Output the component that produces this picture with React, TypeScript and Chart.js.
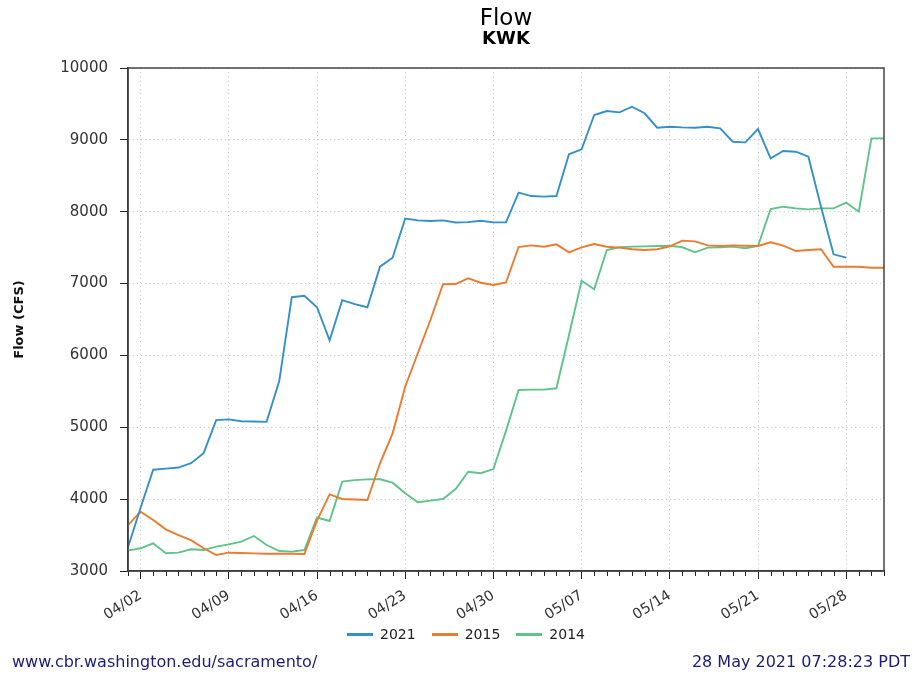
import React, { useEffect, useRef } from 'react';
import { Chart, registerables } from 'chart.js';

Chart.register(...registerables);

const seriesNames = ['2021', '2015', '2014'];
const seriesColors = ['#3490c9', '#ec7a2f', '#5dc48a'];

// daily flow (CFS), day 0 = 04/01
const flow2021 = [
  3330, 3880, 4410, 4425, 4440, 4500, 4640, 5100, 5110, 5085,
  5080, 5075, 5640, 6810, 6830, 6670, 6210, 6770, 6715, 6670,
  7235, 7360, 7905, 7880, 7870, 7880, 7850, 7855, 7875, 7852,
  7852, 8265, 8218, 8210, 8218, 8799, 8868, 9346, 9401, 9383,
  9461, 9370, 9169, 9183, 9174, 9169, 9183, 9160, 8974, 8965,
  9151, 8743, 8845, 8835, 8766, 8070, 7407, 7360,
];
const flow2015 = [
  3640, 3825, 3710, 3580, 3500, 3430, 3316, 3223, 3255, 3250,
  3245, 3240, 3240, 3240, 3237, 3700, 4067, 4002, 3995, 3988,
  4499, 4916, 5565, 6030, 6493, 6990, 6994, 7073, 7012, 6980,
  7015, 7509, 7532, 7513, 7546, 7435, 7505, 7551, 7513, 7500,
  7477, 7467, 7477, 7518, 7597, 7588, 7532, 7523, 7532, 7527,
  7523, 7574, 7527, 7453, 7467, 7477, 7235, 7235, 7235, 7221,
  7221,
];
const flow2014 = [
  3283, 3316, 3385, 3246, 3255, 3302, 3292, 3339, 3371, 3408,
  3487, 3362, 3278, 3269, 3292, 3745, 3696, 4243, 4265, 4275,
  4276, 4229, 4081, 3956, 3979, 4002, 4141, 4382, 4360, 4419,
  4950, 5519, 5524, 5524, 5543, 6284, 7040, 6920, 7467, 7505,
  7514, 7518, 7523, 7527, 7505, 7435, 7500, 7504, 7514, 7491,
  7523, 8038, 8070, 8047, 8033, 8047, 8047, 8126, 8000, 9021,
  9021,
];
const seriesValues = [flow2021, flow2015, flow2014];

const dayCount = 61; // 04/01 .. 05/31
const tickDays = [1, 8, 15, 22, 29, 36, 43, 50, 57];
const tickLabels = ['04/02', '04/09', '04/16', '04/23', '04/30', '05/07', '05/14', '05/21', '05/28'];
const yMin = 3000;
const yMax = 10000;
const yStep = 1000;

const titleText = 'Flow';
const subtitleText = 'KWK';
const yAxisTitle = 'Flow (CFS)';
const footerLeft = 'www.cbr.washington.edu/sacramento/';
const footerRight = '28 May 2021 07:28:23 PDT';

const FONT = '"DejaVu Sans", sans-serif';

const frameAndMinorTicks = {
  id: 'frameAndMinorTicks',
  afterDraw(chart: any) {
    const { ctx, chartArea: a, scales } = chart;
    const xs = scales.x;
    ctx.save();
    ctx.strokeStyle = '#222';
    ctx.lineWidth = 1;
    ctx.beginPath();
    for (let d = 0; d < dayCount; d++) {
      if (tickDays.includes(d)) continue;
      const x = Math.round(xs.getPixelForValue(d)) + 0.5;
      ctx.moveTo(x, a.bottom);
      ctx.lineTo(x, a.bottom + 5);
    }
    ctx.stroke();
    ctx.strokeStyle = '#444';
    ctx.lineWidth = 1.5;
    ctx.strokeRect(a.left, a.top, a.right - a.left, a.bottom - a.top);
    ctx.restore();
  },
};

export default function App() {
  const canvasRef = useRef<HTMLCanvasElement | null>(null);

  useEffect(() => {
    if (!canvasRef.current) return;
    Chart.defaults.font.family = FONT;
    const chart = new Chart(canvasRef.current, {
      type: 'line',
      data: {
        datasets: seriesNames.map((name, i) => ({
          label: name,
          data: seriesValues[i].map((v, d) => ({ x: d, y: v })),
          borderColor: seriesColors[i],
          backgroundColor: seriesColors[i],
          borderWidth: 1.9,
          pointRadius: 0,
          tension: 0,
          fill: false,
        })),
      },
      options: {
        responsive: false,
        animation: false,
        layout: { padding: { left: 8, right: 28, top: 68, bottom: 54 } },
        plugins: {
          legend: { display: false },
          title: { display: false },
          tooltip: { enabled: false },
        },
        scales: {
          x: {
            type: 'linear',
            min: 0,
            max: dayCount - 1,
            afterBuildTicks: (s: any) => {
              s.ticks = tickDays.map((v) => ({ value: v }));
            },
            afterFit: (s: any) => {
              s.height = 50;
            },
            ticks: {
              autoSkip: false,
              minRotation: 32,
              maxRotation: 32,
              padding: 8,
              color: '#333',
              font: { size: 14.5 },
              callback: (v: any) => {
                const k = tickDays.indexOf(Number(v));
                return k >= 0 ? tickLabels[k] : '';
              },
            },
            grid: { color: '#c2c2c2', lineWidth: 1, tickColor: '#222', tickLength: 8 },
            border: { color: '#222', width: 1.5, dash: [1, 3.2] },
          },
          y: {
            type: 'linear',
            min: yMin,
            max: yMax,
            afterFit: (s: any) => {
              s.width = 120;
            },
            ticks: {
              stepSize: yStep,
              padding: 12,
              color: '#333',
              font: { size: 15 },
              callback: (v: any) => String(v),
            },
            title: {
              display: true,
              text: yAxisTitle,
              color: '#111',
              font: { size: 13, weight: 'bold' },
            },
            grid: { color: '#c2c2c2', lineWidth: 1, tickColor: '#222', tickLength: 8 },
            border: { color: '#222', width: 1.5, dash: [1, 3.2] },
          },
        },
      },
      plugins: [frameAndMinorTicks],
    } as any);
    return () => chart.destroy();
  }, []);

  return (
    <div
      style={{
        position: 'absolute',
        left: 0,
        top: 0,
        width: 912,
        height: 675,
        background: '#fff',
        fontFamily: FONT,
        overflow: 'hidden',
      }}
    >
      <canvas ref={canvasRef} width={912} height={675} style={{ position: 'absolute', left: 0, top: 0 }} />
      <div style={{ position: 'absolute', left: 128, width: 756, top: 4, textAlign: 'center', fontSize: 23, lineHeight: '26px', color: '#000' }}>
        {titleText}
      </div>
      <div style={{ position: 'absolute', left: 128, width: 756, top: 28, textAlign: 'center', fontSize: 18, lineHeight: '20px', fontWeight: 'bold', color: '#000' }}>
        {subtitleText}
      </div>
      <div
        style={{
          position: 'absolute',
          left: 20,
          width: 892,
          top: 624,
          height: 20,
          display: 'flex',
          justifyContent: 'center',
          alignItems: 'center',
          fontSize: 14,
          color: '#222',
        }}
      >
        {seriesNames.map((name, i) => (
          <div key={name} style={{ display: 'flex', alignItems: 'center', marginLeft: i === 0 ? 0 : 16 }}>
            <span style={{ display: 'inline-block', width: 26, height: 3, background: seriesColors[i], marginRight: 7 }} />
            <span>{name}</span>
          </div>
        ))}
      </div>
      <div style={{ position: 'absolute', left: 12, top: 653, fontSize: 16, lineHeight: '18px', color: '#1c1c7c' }}>
        {footerLeft}
      </div>
      <div style={{ position: 'absolute', right: 2, top: 653, fontSize: 16, lineHeight: '18px', color: '#1c1c7c' }}>
        {footerRight}
      </div>
    </div>
  );
}
